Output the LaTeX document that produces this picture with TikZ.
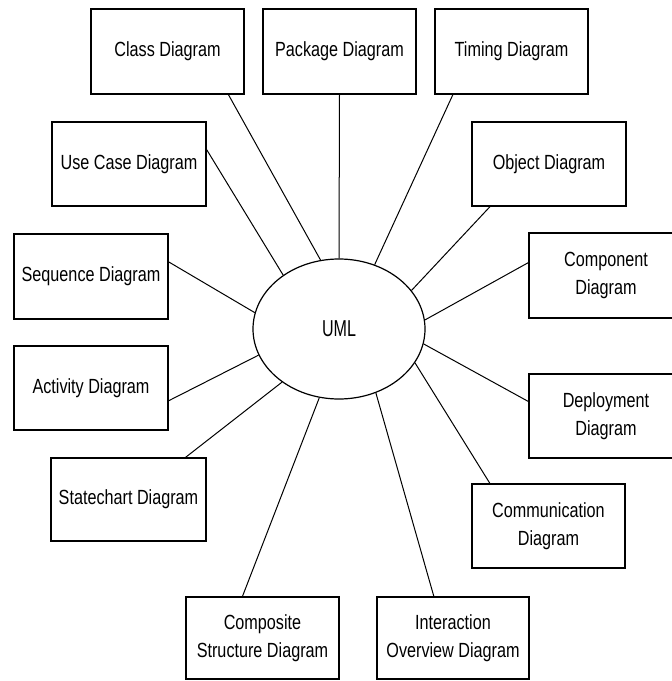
\documentclass[tikz,border=0pt]{standalone}
\usepackage{fontspec}
\usetikzlibrary{shapes.geometric,calc}
\newfontfamily\boxfont{Liberation Sans}[FakeStretch=0.79]
\newfontfamily\umlfont{Liberation Sans}[FakeStretch=0.70]

\tikzset{
  diagbox/.style={draw, line width=1.2pt, rectangle, inner sep=0pt,
    align=center, font=\boxfont\fontsize{20.5}{28}\selectfont},
  hub/.style={draw, line width=1.2pt, ellipse, inner sep=0pt,
    minimum width=172pt, minimum height=140pt,
    font=\umlfont\fontsize{23}{28}\selectfont},
  link/.style={line width=1pt}
}

\begin{document}
\begin{tikzpicture}[x=1pt, y=-1pt]
\useasboundingbox (0,0) rectangle (672,681);

% central hub
\node[hub] (uml) at (339,329) {UML};

% top row
\node[diagbox, minimum width=153pt, minimum height=85pt] (cls) at (167.5,51.5) {Class Diagram};
\node[diagbox, minimum width=153pt, minimum height=85pt] (pkg) at (339.5,51.5) {Package Diagram};
\node[diagbox, minimum width=153pt, minimum height=85pt] (tim) at (511.5,51.5) {Timing Diagram};

% second row
\node[diagbox, minimum width=154pt, minimum height=84pt] (usc) at (129,164) {Use Case Diagram};
\node[diagbox, minimum width=154pt, minimum height=84pt] (obj) at (549,164) {Object Diagram};

% left column
\node[diagbox, minimum width=154pt, minimum height=85pt] (seq) at (91,276.5) {Sequence Diagram};
\node[diagbox, minimum width=154pt, minimum height=84pt] (act) at (91,388) {Activity Diagram};
\node[diagbox, minimum width=155pt, minimum height=83pt] (stc) at (128.5,499.5) {Statechart Diagram};

% right column
\node[diagbox, minimum width=154pt, minimum height=85pt] (cmp) at (606,275.5) {Component\\Diagram};
\node[diagbox, minimum width=154pt, minimum height=84pt] (dep) at (606,416) {Deployment\\Diagram};
\node[diagbox, minimum width=153pt, minimum height=84pt] (com) at (548.5,526) {Communication\\Diagram};

% bottom row
\node[diagbox, minimum width=153pt, minimum height=82pt] (cst) at (262.5,638) {Composite\\Structure Diagram};
\node[diagbox, minimum width=152pt, minimum height=82pt] (iov) at (453,638) {Interaction\\Overview Diagram};

% spokes
\draw[link] ($(cls.south west)!0.895!(cls.south east)$) -- (uml.105.2);
\draw[link] ($(usc.north east)!0.33!(usc.south east)$) -- (uml.136);
\draw[link] (pkg.south) -- (uml.north);
\draw[link] ($(tim.south west)!0.12!(tim.south east)$) -- (uml.61.2);
\draw[link] ($(obj.south west)!0.12!(obj.south east)$) -- (uml.28.1);
\draw[link] ($(cmp.north west)!0.35!(cmp.south west)$) -- (uml.6);
\draw[link] ($(dep.north west)!0.33!(dep.south west)$) -- (uml.-10);
\draw[link] ($(com.north west)!0.12!(com.north east)$) -- (uml.-24.1);
\draw[link] ($(iov.north west)!0.375!(iov.north east)$) -- (uml.-60);
\draw[link] ($(cst.north west)!0.37!(cst.north east)$) -- (uml.-106.4);
\draw[link] ($(stc.north west)!0.865!(stc.north east)$) -- (uml.-137);
\draw[link] ($(act.north east)!0.65!(act.south east)$) -- (uml.198.2);
\draw[link] ($(seq.north east)!0.33!(seq.south east)$) -- (uml.169.2);
\end{tikzpicture}
\end{document}
